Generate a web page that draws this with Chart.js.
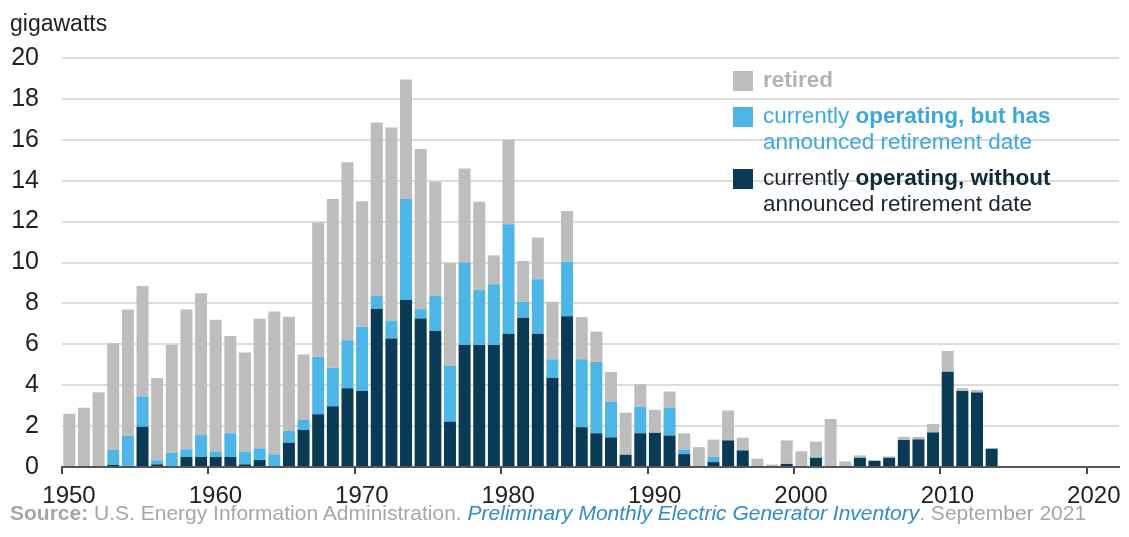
<!DOCTYPE html>
<html>
<head>
<meta charset="utf-8">
<script src="https://cdn.jsdelivr.net/npm/chart.js@4.4.0/dist/chart.umd.min.js"></script>
<style>
  body { margin: 0; background: #fff; font-family: "Liberation Sans", Arial, sans-serif; }
  #wrap { position: relative; width: 1129px; height: 537px; }
  #unit { position: absolute; left: 10px; top: 10px; font-size: 23px; color: #222; }
  #legend { position: absolute; left: 733px; top: 67px; font-size: 22.5px; line-height: 26px; }
  .item { position: relative; padding-left: 30px; margin-bottom: 10px; white-space: nowrap; }
  .box { position: absolute; left: 0; top: 4px; width: 20px; height: 20px; }
  #source { position: absolute; left: 10px; top: 501px; font-size: 21px; color: #a6a6a6; white-space: nowrap; }
  #source i { color: #2f8ccc; }
</style>
</head>
<body>
<div id="wrap">
  <canvas id="myChart" width="1129" height="537"></canvas>
  <div id="unit">gigawatts</div>
  <div id="legend">
    <div class="item" style="color:#b3b3b3"><span class="box" style="background:#bdbdbd"></span><b>retired</b></div>
    <div class="item" style="color:#3aa8df"><span class="box" style="background:#4db6e6"></span>currently <b>operating, but has</b><br>announced retirement date</div>
    <div class="item" style="color:#1b2631"><span class="box" style="background:#0a3a55"></span>currently <b style="color:#0e2a3d">operating, without</b><br>announced retirement date</div>
  </div>
  <div id="source"><b>Source:</b> U.S. Energy Information Administration. <i>Preliminary Monthly Electric Generator Inventory</i>. September 2021</div>
</div>
<script>
// años
const years = [1950, 1951, 1952, 1953, 1954, 1955, 1956, 1957, 1958, 1959,
  1960, 1961, 1962, 1963, 1964, 1965, 1966, 1967, 1968, 1969,
  1970, 1971, 1972, 1973, 1974, 1975, 1976, 1977, 1978, 1979,
  1980, 1981, 1982, 1983, 1984, 1985, 1986, 1987, 1988, 1989,
  1990, 1991, 1992, 1993, 1994, 1995, 1996, 1997, 1998, 1999,
  2000, 2001, 2002, 2003, 2004, 2005, 2006, 2007, 2008, 2009,
  2010, 2011, 2012, 2013];

// operando sin fecha de retiro
const sinRetiro = [0, 0, 0, 0.1, 0, 1.97, 0.13, 0, 0.49, 0.49,
  0.49, 0.49, 0.13, 0.34, 0, 1.19, 1.81, 2.58, 2.97, 3.85,
  3.72, 7.74, 6.28, 8.17, 7.26, 6.65, 2.22, 5.97, 5.97, 5.97,
  6.52, 7.3, 6.52, 4.37, 7.37, 1.95, 1.65, 1.45, 0.6, 1.65,
  1.67, 1.54, 0.63, 0, 0.24, 1.3, 0.81, 0, 0, 0.15,
  0, 0.45, 0, 0, 0.45, 0.3, 0.45, 1.32, 1.35, 1.69,
  4.66, 3.72, 3.64, 0.9];

// operando con fecha de retiro anunciada
const conRetiro = [0, 0, 0, 0.73, 1.52, 1.48, 0.2, 0.7, 0.38, 1.07,
  0.26, 1.16, 0.62, 0.57, 0.62, 0.57, 0.49, 2.81, 1.89, 2.35,
  3.14, 0.62, 0.86, 4.93, 0.46, 1.71, 2.72, 4.03, 2.68, 2.97,
  5.35, 0.78, 2.66, 0.9, 2.67, 3.32, 3.49, 1.75, 0, 1.3,
  0, 1.36, 0.22, 0, 0.26, 0, 0, 0, 0, 0,
  0, 0, 0, 0, 0, 0, 0, 0, 0, 0,
  0, 0, 0, 0];

// retirados
const retirados = [2.6, 2.9, 3.65, 5.22, 6.18, 5.4, 4.02, 5.27, 6.83, 6.94,
  6.45, 4.75, 4.85, 6.34, 6.98, 5.59, 3.2, 6.56, 8.24, 8.7,
  6.14, 8.49, 9.46, 5.85, 7.83, 5.59, 5.02, 4.6, 4.32, 1.41,
  4.13, 1.99, 2.04, 2.81, 2.48, 2.06, 1.48, 1.45, 2.06, 1.1,
  1.13, 0.79, 0.8, 0.97, 0.84, 1.46, 0.62, 0.41, 0.12, 1.15,
  0.77, 0.79, 2.35, 0.27, 0.12, 0.03, 0.07, 0.15, 0.12, 0.41,
  1.01, 0.13, 0.13, 0];

const xTicks = [1950, 1960, 1970, 1980, 1990, 2000, 2010, 2020];

// cada barra ocupa el año completo, centrada a mitad de año
const toPoints = (values) => years.map((y, i) => ({ x: y + 0.5, y: values[i] }));

const datasets = [
  { label: "currently operating, without announced retirement date", data: toPoints(sinRetiro), backgroundColor: "#0a3a55" },
  { label: "currently operating, but has announced retirement date", data: toPoints(conRetiro), backgroundColor: "#4db6e6" },
  { label: "retired", data: toPoints(retirados), backgroundColor: "#bdbdbd" }
];

const config = {
  type: "bar",
  data: { datasets },
  options: {
    responsive: false,
    animation: false,
    datasets: { bar: { barPercentage: 0.82, categoryPercentage: 1.0, borderWidth: 0 } },
    layout: { padding: { top: 58, left: 0, right: 10, bottom: 30 } },
    plugins: { legend: { display: false }, tooltip: { enabled: false } },
    scales: {
      x: {
        type: "linear",
        stacked: true,
        offset: false,
        min: 1950,
        max: 2022.2,
        afterBuildTicks: (scale) => { scale.ticks = xTicks.map(v => ({ value: v })); },
        afterFit: (scale) => { scale.height = 40; },
        ticks: {
          font: { family: "Liberation Sans", size: 24 },
          color: "#222",
          padding: 8,
          labelOffset: 7,
          maxRotation: 0,
          callback: (v) => String(v)
        },
        grid: { offset: false, drawOnChartArea: false, drawTicks: true, tickLength: 7, color: "#444", lineWidth: 2 },
        border: { display: true, color: "#555", width: 2 }
      },
      y: {
        stacked: true,
        min: 0,
        max: 20,
        afterFit: (scale) => { scale.width = 62; },
        ticks: {
          stepSize: 2,
          font: { family: "Liberation Sans", size: 25 },
          color: "#222",
          padding: 23
        },
        grid: { color: "#dcdcdc", lineWidth: 2, drawTicks: false },
        border: { display: false }
      }
    }
  }
};

const myChart = document.getElementById("myChart");
window.chart = new Chart(myChart, config);
</script>
</body>
</html>
